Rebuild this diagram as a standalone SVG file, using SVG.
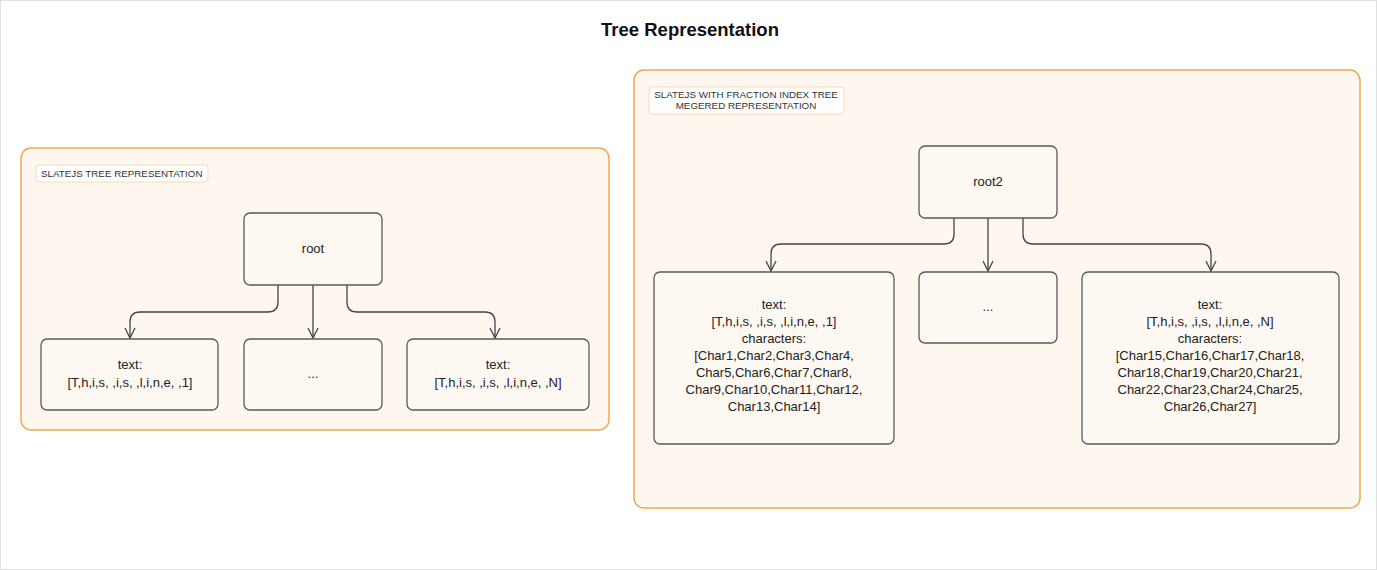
<svg xmlns="http://www.w3.org/2000/svg" width="1377" height="570" viewBox="0 0 1377 570">
<style>
.grp{fill:#fef7f0;stroke:#f0a850;stroke-width:1.5}
.lbl{fill:#ffffff;stroke:#fbd9b0;stroke-width:1}
.lt{font-family:"Liberation Sans",Arial,sans-serif;font-size:9.8px;fill:#333}
.node{fill:#fef8f2;stroke:#5a5a5a;stroke-width:1.3}
.nt{font-family:"Liberation Sans",Arial,sans-serif;font-size:13px;fill:#222;text-anchor:middle}
.conn{fill:none;stroke:#444;stroke-width:1.3}
.title{font-family:"Liberation Sans",Arial,sans-serif;font-size:18.5px;font-weight:bold;fill:#111;text-anchor:middle}
</style>
<defs>
<marker id="arr" viewBox="0 0 12 12" refX="11" refY="6" markerWidth="12" markerHeight="12" markerUnits="userSpaceOnUse" orient="auto">
<path d="M1,1 L11,6 L1,11" fill="none" stroke="#444" stroke-width="1.3"/>
</marker>
</defs>
<rect x="0.5" y="0.5" width="1376" height="569" fill="#ffffff" stroke="#e0e0e0"/>
<text class="title" x="690" y="36">Tree Representation</text>

<g id="group-left">
<rect class="grp" x="21" y="148" width="588" height="282" rx="10"/>
<rect class="lbl" x="36" y="165" width="172" height="17" rx="3"/>
<text class="lt" x="41" y="177">SLATEJS TREE REPRESENTATION</text>
</g>
<g id="group-right">
<rect class="grp" x="634" y="70" width="726" height="438" rx="10"/>
<rect class="lbl" x="649" y="87" width="195" height="27" rx="3"/>
<text class="lt" x="746" y="98" text-anchor="middle">SLATEJS WITH FRACTION INDEX TREE</text>
<text class="lt" x="746" y="109" text-anchor="middle">MEGERED REPRESENTATION</text>
</g>

<g id="connectors">
<path class="conn" d="M278,285 V302 Q278,312 268,312 H140 Q130,312 130,322 V338" marker-end="url(#arr)"/>
<path class="conn" d="M313,285 V338" marker-end="url(#arr)"/>
<path class="conn" d="M347,285 V302 Q347,312 357,312 H485 Q495,312 495,322 V338" marker-end="url(#arr)"/>
<path class="conn" d="M954,218 V234 Q954,244 944,244 H781 Q771,244 771,254 V271" marker-end="url(#arr)"/>
<path class="conn" d="M988,218 V271" marker-end="url(#arr)"/>
<path class="conn" d="M1023,218 V234 Q1023,244 1033,244 H1201 Q1211,244 1211,254 V271" marker-end="url(#arr)"/>
</g>

<g id="root">
<rect class="node" x="244" y="213" width="138" height="72" rx="6"/>
<text class="nt" x="313" y="253">root</text>
</g>
<g id="text1">
<rect class="node" x="41" y="339" width="177" height="71" rx="6"/>
<text class="nt" x="130" y="369">text:</text>
<text class="nt" x="130" y="387">[T,h,i,s, ,i,s, ,l,i,n,e, ,1]</text>
</g>
<g id="dots1">
<rect class="node" x="244" y="339" width="138" height="71" rx="6"/>
<text class="nt" x="313" y="378">...</text>
</g>
<g id="textN">
<rect class="node" x="407" y="339" width="182" height="71" rx="6"/>
<text class="nt" x="498" y="369">text:</text>
<text class="nt" x="498" y="387">[T,h,i,s, ,i,s, ,l,i,n,e, ,N]</text>
</g>

<g id="root2">
<rect class="node" x="919" y="146" width="138" height="72" rx="6"/>
<text class="nt" x="988" y="186">root2</text>
</g>
<g id="text2">
<rect class="node" x="654" y="272" width="240" height="172" rx="6"/>
<text class="nt" x="774" y="309">text:</text>
<text class="nt" x="774" y="326">[T,h,i,s, ,i,s, ,l,i,n,e, ,1]</text>
<text class="nt" x="774" y="343">characters:</text>
<text class="nt" x="774" y="360">[Char1,Char2,Char3,Char4,</text>
<text class="nt" x="774" y="377">Char5,Char6,Char7,Char8,</text>
<text class="nt" x="774" y="394">Char9,Char10,Char11,Char12,</text>
<text class="nt" x="774" y="411">Char13,Char14]</text>
</g>
<g id="dots2">
<rect class="node" x="919" y="272" width="138" height="71" rx="6"/>
<text class="nt" x="988" y="311">...</text>
</g>
<g id="text2N">
<rect class="node" x="1082" y="272" width="257" height="172" rx="6"/>
<text class="nt" x="1210" y="309">text:</text>
<text class="nt" x="1210" y="326">[T,h,i,s, ,i,s, ,l,i,n,e, ,N]</text>
<text class="nt" x="1210" y="343">characters:</text>
<text class="nt" x="1210" y="360">[Char15,Char16,Char17,Char18,</text>
<text class="nt" x="1210" y="377">Char18,Char19,Char20,Char21,</text>
<text class="nt" x="1210" y="394">Char22,Char23,Char24,Char25,</text>
<text class="nt" x="1210" y="411">Char26,Char27]</text>
</g>
</svg>
